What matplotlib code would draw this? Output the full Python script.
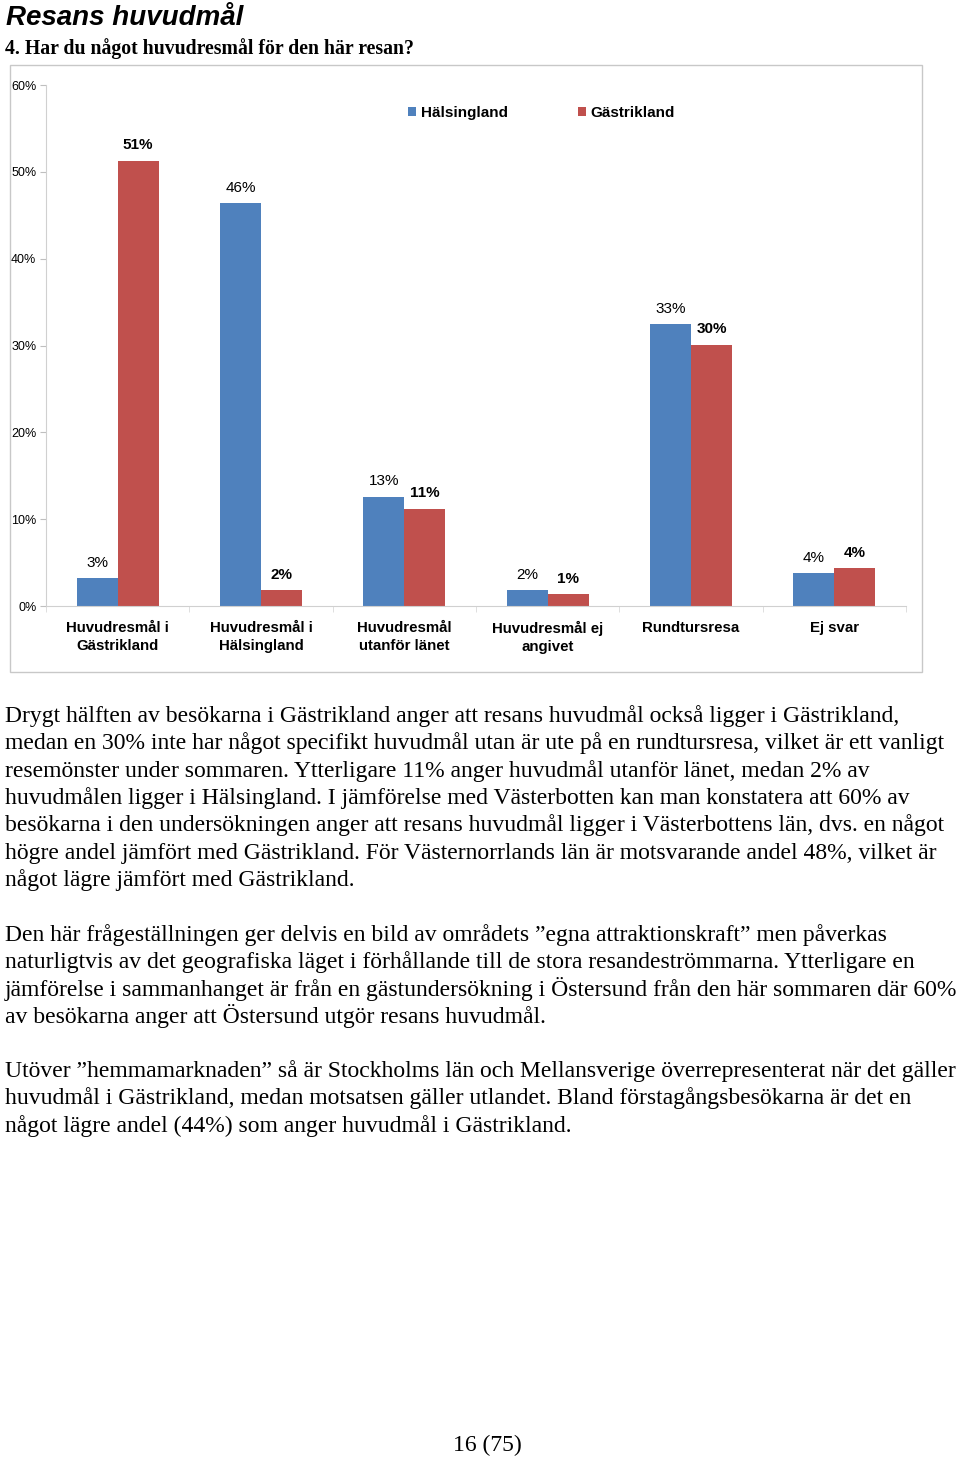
import numpy as np
import matplotlib.pyplot as plt
from matplotlib.patches import Rectangle

W, H = 960, 1457

categories = ['Huvudresmål i\nGästrikland', 'Huvudresmål i\nHälsingland', 'Huvudresmål\nutanför länet',
              'Huvudresmål ej\nangivet', 'Rundtursresa', 'Ej svar']
halsingland = [3.2, 46.4, 12.6, 1.8, 32.5, 3.8]
gastrikland = [51.3, 1.8, 11.2, 1.4, 30.1, 4.4]
halsingland_lbl = ['3%', '46%', '13%', '2%', '33%', '4%']
gastrikland_lbl = ['51%', '2%', '11%', '1%', '30%', '4%']
yticks = [0, 10, 20, 30, 40, 50, 60]

para1 = [
    'Drygt hälften av besökarna i Gästrikland anger att resans huvudmål också ligger i Gästrikland,',
    'medan en 30% inte har något specifikt huvudmål utan är ute på en rundtursresa, vilket är ett vanligt',
    'resemönster under sommaren. Ytterligare 11% anger huvudmål utanför länet, medan 2% av',
    'huvudmålen ligger i Hälsingland. I jämförelse med Västerbotten kan man konstatera att 60% av',
    'besökarna i den undersökningen anger att resans huvudmål ligger i Västerbottens län, dvs. en något',
    'högre andel jämfört med Gästrikland. För Västernorrlands län är motsvarande andel 48%, vilket är',
    'något lägre jämfört med Gästrikland.',
]
para2 = [
    'Den här frågeställningen ger delvis en bild av områdets \u201degna attraktionskraft\u201d men påverkas',
    'naturligtvis av det geografiska läget i förhållande till de stora resandeströmmarna. Ytterligare en',
    'jämförelse i sammanhanget är från en gästundersökning i Östersund från den här sommaren där 60%',
    'av besökarna anger att Östersund utgör resans huvudmål.',
]
para3 = [
    'Utöver \u201dhemmamarknaden\u201d så är Stockholms län och Mellansverige överrepresenterat när det gäller',
    'huvudmål i Gästrikland, medan motsatsen gäller utlandet. Bland förstagångsbesökarna är det en',
    'något lägre andel (44%) som anger huvudmål i Gästrikland.',
]

blue = '#4F81BD'
red = '#C0504D'
grey = '#BFBFBF'

def fx(x):
    return x / W

def fy(y):
    return 1 - y / H

fig = plt.figure(figsize=(W / 100, H / 100), dpi=100)

# heading
fig.text(fx(6), fy(25), 'Resans huvudmål', fontsize=20, fontweight='bold', fontstyle='italic',
         family='Liberation Sans', va='baseline')
fig.text(fx(5), fy(54), '4. Har du något huvudresmål för den här resan?', fontsize=14.2,
         fontweight='bold', family='Liberation Serif', va='baseline')

# chart frame
fig.patches.append(Rectangle((fx(10), fy(672)), fx(912), (672 - 65) / H, transform=fig.transFigure,
                             fill=False, edgecolor='#C8C8C8', lw=1))

ax = fig.add_axes([fx(46), fy(606), fx(860), (606 - 85) / H])
x = np.arange(len(categories))
w = 0.286
ax.bar(x - w / 2, halsingland, w, color=blue, label='Hälsingland')
ax.bar(x + w / 2, gastrikland, w, color=red, label='Gästrikland')

for i in range(len(categories)):
    ax.annotate(halsingland_lbl[i], (x[i] - w / 2, halsingland[i]), xytext=(0, 11), textcoords='offset points',
                ha='center', va='center', fontsize=11, family='Liberation Sans')
    ax.annotate(gastrikland_lbl[i], (x[i] + w / 2, gastrikland[i]), xytext=(0, 11), textcoords='offset points',
                ha='center', va='center', fontsize=11, fontweight='bold', family='Liberation Sans')

ax.set_xlim(-0.5, len(categories) - 0.5)
ax.set_ylim(0, 60)
ax.set_yticks(yticks)
ax.set_yticklabels([f'{t}%' for t in yticks], fontsize=9, family='Liberation Sans')
ax.tick_params(axis='y', length=4, color=grey, pad=3)
ax.set_xticks(x)
ax.set_xticklabels(categories, fontsize=10.8, fontweight='bold', family='Liberation Sans', linespacing=1.35)
ax.tick_params(axis='x', length=0, pad=11)
ax.set_xticks(np.arange(-0.5, len(categories)), minor=True)
ax.tick_params(axis='x', which='minor', length=4, color='#D9D9D9')
for s in ['top', 'right']:
    ax.spines[s].set_visible(False)
ax.spines['left'].set_color('#D0D0D0')
ax.spines['bottom'].set_color('#D0D0D0')

ax.legend(loc='center', bbox_to_anchor=(0.576, 0.946), ncol=2, frameon=False,
          prop={'family': 'Liberation Sans', 'weight': 'bold', 'size': 11},
          handlelength=0.55, handleheight=0.55, handletextpad=0.3, columnspacing=4.6)

# body text
def draw_par(lines, y0):
    for k, line in enumerate(lines):
        fig.text(fx(5), fy(y0 + k * 27.3), line, fontsize=17, family='Liberation Serif', va='baseline')

draw_par(para1, 722)
draw_par(para2, 941)
draw_par(para3, 1077)

fig.text(fx(487), fy(1451), '16 (75)', fontsize=17, family='Liberation Serif', ha='center', va='baseline')

fig.savefig('out.png', dpi=100)
